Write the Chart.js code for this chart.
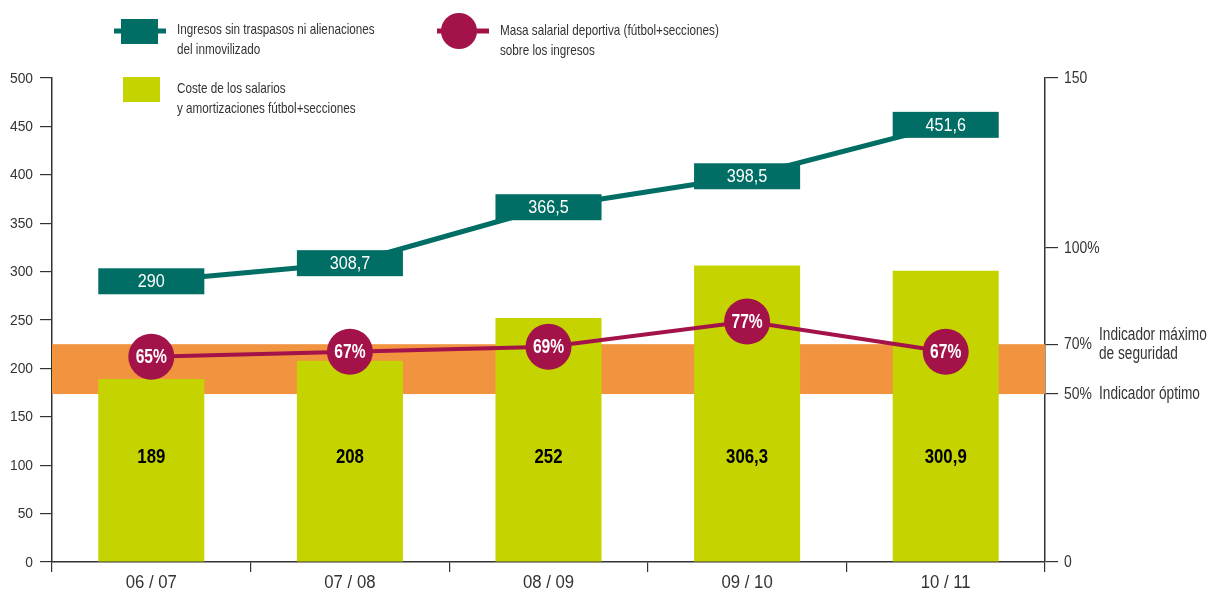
<!DOCTYPE html>
<html lang="es">
<head>
<meta charset="utf-8">
<title>Masa salarial deportiva</title>
<script src="https://cdn.jsdelivr.net/npm/chart.js@4/dist/chart.umd.min.js"></script>
<style>
  html, body { margin: 0; padding: 0; background: #fff; }
  #wrap { width: 1211px; height: 593px; }
</style>
</head>
<body>
<div id="wrap"><canvas id="c" width="1211" height="593"></canvas></div>
<script>
// Temporadas y valores (millones de euros / porcentaje)
const seasons = ['06 / 07', '07 / 08', '08 / 09', '09 / 10', '10 / 11'];
const ingresos = [290, 308.7, 366.5, 398.5, 451.6];
const costeSalarios = [189, 208, 252, 306.3, 300.9];
const masaSalarial = [65, 67, 69, 77, 67];
const leftTicks = [0, 50, 100, 150, 200, 250, 300, 350, 400, 450, 500];
const rightTicks = [0, 50, 70, 100, 150];
const bandaSeguridad = [50, 70];

const FONT = '"Liberation Sans", Arial, sans-serif';
const TEAL = '#006E64';
const LIME = '#C5D300';
const ORANGE = '#F29340';
const CRIMSON = '#A31249';
const INK = '#333333';

const fmt = v => String(v).replace('.', ',');
const rightLabel = v => (v === 0 || v === 150) ? String(v) : v + '%';

// Narrow lettering: draw the text squeezed horizontally
function condText(ctx, text, x, y, o) {
  ctx.save();
  ctx.font = (o.weight || 'normal') + ' ' + o.size + 'px ' + FONT;
  ctx.fillStyle = o.color || INK;
  ctx.textAlign = o.align || 'left';
  ctx.textBaseline = 'middle';
  ctx.translate(x, y);
  ctx.scale(o.sx || 0.85, 1);
  ctx.fillText(text, 0, 0);
  ctx.restore();
}

// Right axis: piecewise scale, each break given as its share of the axis height
const RIGHT_BREAKS = [[0, 0], [50, 173.5 / 500], [70, 225 / 500], [100, 325 / 500], [150, 1]];

class PiecewiseScale extends Chart.LinearScale {
  static id = 'piecewise';
  getPixelForValue(value) {
    if (value === null || value === undefined || isNaN(value)) return NaN;
    const k = RIGHT_BREAKS;
    let f = k[k.length - 1][1];
    if (value <= k[0][0]) f = k[0][1];
    else {
      for (let i = 1; i < k.length; i++) {
        if (value <= k[i][0]) {
          const [v0, f0] = k[i - 1], [v1, f1] = k[i];
          f = f0 + (value - v0) / (v1 - v0) * (f1 - f0);
          break;
        }
      }
    }
    return this.getPixelForDecimal(f);
  }
  getValueForPixel(pixel) {
    const f = this.getDecimalForPixel(pixel);
    const k = RIGHT_BREAKS;
    for (let i = 1; i < k.length; i++) {
      if (f <= k[i][1]) {
        const [v0, f0] = k[i - 1], [v1, f1] = k[i];
        return v0 + (f - f0) / (f1 - f0) * (v1 - v0);
      }
    }
    return k[k.length - 1][0];
  }
}
Chart.register(PiecewiseScale);

// Orange band behind the bars
const bandPlugin = {
  id: 'band',
  beforeDatasetsDraw(chart) {
    const { ctx, chartArea } = chart;
    const r = chart.scales.y1;
    const yTop = r.getPixelForValue(bandaSeguridad[1]);
    const yBot = r.getPixelForValue(bandaSeguridad[0]);
    ctx.save();
    ctx.fillStyle = ORANGE;
    ctx.fillRect(chartArea.left, yTop, chartArea.right - chartArea.left, yBot - yTop);
    ctx.restore();
  }
};

// Axis tick labels in narrow lettering
const tickLabelsPlugin = {
  id: 'tickLabels',
  afterDraw(chart) {
    const { ctx, chartArea } = chart;
    const y = chart.scales.y, r = chart.scales.y1, x = chart.scales.x;
    y.ticks.forEach(t => {
      condText(ctx, String(t.value), chartArea.left - 19, y.getPixelForValue(t.value) + 0.5,
        { size: 15, sx: 0.92, align: 'right' });
    });
    r.ticks.forEach(t => {
      condText(ctx, rightLabel(t.value), chartArea.right + 19, r.getPixelForValue(t.value) + 0.5,
        { size: 17, sx: 0.82 });
    });
    x.ticks.forEach((t, i) => {
      condText(ctx, seasons[i], x.getPixelForValue(i), chartArea.bottom + 21,
        { size: 18, sx: 0.93, align: 'center' });
    });
  }
};

// Value boxes, circle labels, bar labels, side notes and legend
const labelsPlugin = {
  id: 'labels',
  afterDatasetDraw(chart, args) {
    if (args.index !== 1) return;
    const { ctx } = chart;
    const bars = chart.getDatasetMeta(2).data;
    args.meta.data.forEach((p, i) => {
      const w = bars[i].width;
      const h = 26;
      ctx.save();
      ctx.fillStyle = TEAL;
      ctx.fillRect(p.x - w / 2, p.y - h / 2, w, h);
      ctx.restore();
      condText(ctx, fmt(ingresos[i]), p.x, p.y + 1, { size: 18, sx: 0.9, align: 'center', color: '#ffffff' });
    });
  },
  afterDatasetsDraw(chart) {
    const { ctx, chartArea } = chart;
    chart.getDatasetMeta(0).data.forEach((p, i) => {
      condText(ctx, masaSalarial[i] + '%', p.x, p.y + 1,
        { size: 19.5, weight: 'bold', sx: 0.8, align: 'center', color: '#ffffff' });
    });
    chart.getDatasetMeta(2).data.forEach((b, i) => {
      condText(ctx, fmt(costeSalarios[i]), b.x, chartArea.bottom - 104.5,
        { size: 21, weight: 'bold', sx: 0.8, align: 'center', color: '#000000' });
    });
    const r = chart.scales.y1;
    const x = chartArea.right + 54;
    const y70 = r.getPixelForValue(70);
    const y50 = r.getPixelForValue(50);
    condText(ctx, 'Indicador máximo', x, y70 - 9, { size: 17.5, sx: 0.78 });
    condText(ctx, 'de seguridad', x, y70 + 10, { size: 17.5, sx: 0.78 });
    condText(ctx, 'Indicador óptimo', x, y50, { size: 17.5, sx: 0.78 });
  },
  afterDraw(chart) {
    const { ctx } = chart;
    ctx.save();
    ctx.lineWidth = 5;
    // teal line + box
    ctx.strokeStyle = TEAL;
    ctx.beginPath(); ctx.moveTo(114, 31); ctx.lineTo(166, 31); ctx.stroke();
    ctx.fillStyle = TEAL;
    ctx.fillRect(121, 19, 37, 25);
    // crimson line + circle
    ctx.strokeStyle = CRIMSON;
    ctx.beginPath(); ctx.moveTo(437, 31); ctx.lineTo(489, 31); ctx.stroke();
    ctx.fillStyle = CRIMSON;
    ctx.beginPath(); ctx.arc(459, 31, 18, 0, Math.PI * 2); ctx.fill();
    // lime square
    ctx.fillStyle = LIME;
    ctx.fillRect(123, 77, 37, 25);
    ctx.restore();
    const lt = { size: 15, sx: 0.78 };
    condText(ctx, 'Ingresos sin traspasos ni alienaciones', 177, 30, lt);
    condText(ctx, 'del inmovilizado', 177, 50, lt);
    condText(ctx, 'Masa salarial deportiva (fútbol+secciones)', 500, 31, lt);
    condText(ctx, 'sobre los ingresos', 500, 51, lt);
    condText(ctx, 'Coste de los salarios', 177, 88.5, lt);
    condText(ctx, 'y amortizaciones fútbol+secciones', 177, 108.5, lt);
  }
};

new Chart(document.getElementById('c'), {
  data: {
    labels: seasons,
    datasets: [
      {
        type: 'line',
        label: 'Masa salarial deportiva (fútbol+secciones) sobre los ingresos',
        data: masaSalarial,
        yAxisID: 'y1',
        borderColor: CRIMSON,
        backgroundColor: CRIMSON,
        borderWidth: 4,
        pointRadius: 23,
        pointHoverRadius: 23,
        pointBorderWidth: 0,
        tension: 0,
        order: 1
      },
      {
        type: 'line',
        label: 'Ingresos sin traspasos ni alienaciones del inmovilizado',
        data: ingresos,
        yAxisID: 'y',
        borderColor: TEAL,
        backgroundColor: TEAL,
        borderWidth: 5,
        pointRadius: 0,
        tension: 0,
        order: 2
      },
      {
        type: 'bar',
        label: 'Coste de los salarios y amortizaciones fútbol+secciones',
        data: costeSalarios,
        yAxisID: 'y',
        backgroundColor: LIME,
        borderWidth: 0,
        barPercentage: 0.534,
        categoryPercentage: 1,
        order: 3
      }
    ]
  },
  options: {
    responsive: false,
    devicePixelRatio: 1,
    animation: false,
    layout: { padding: { top: 78, left: 0, right: 0, bottom: 0 } },
    plugins: { legend: { display: false }, tooltip: { enabled: false } },
    scales: {
      x: {
        type: 'category',
        offset: true,
        grid: { offset: true, drawOnChartArea: false, drawTicks: true, tickLength: 10, color: INK, lineWidth: 1.2 },
        border: { color: INK, width: 1.5 },
        ticks: { display: false },
        afterFit(s) { s.height = 31; }
      },
      y: {
        position: 'left',
        min: 0,
        max: 500,
        afterBuildTicks(s) { s.ticks = leftTicks.map(v => ({ value: v })); },
        grid: { drawOnChartArea: false, drawTicks: true, tickLength: 12, color: INK, lineWidth: 1.2 },
        border: { color: INK, width: 1.5 },
        ticks: { display: false },
        afterFit(s) { s.width = 52; }
      },
      y1: {
        type: 'piecewise',
        position: 'right',
        min: 0,
        max: 150,
        afterBuildTicks(s) { s.ticks = rightTicks.map(v => ({ value: v })); },
        grid: { drawOnChartArea: false, drawTicks: true, tickLength: 13, color: INK, lineWidth: 1.2 },
        border: { color: INK, width: 1.5 },
        ticks: { display: false, callback: rightLabel },
        afterFit(s) { s.width = 166; }
      }
    }
  },
  plugins: [bandPlugin, labelsPlugin, tickLabelsPlugin]
});
</script>
</body>
</html>
